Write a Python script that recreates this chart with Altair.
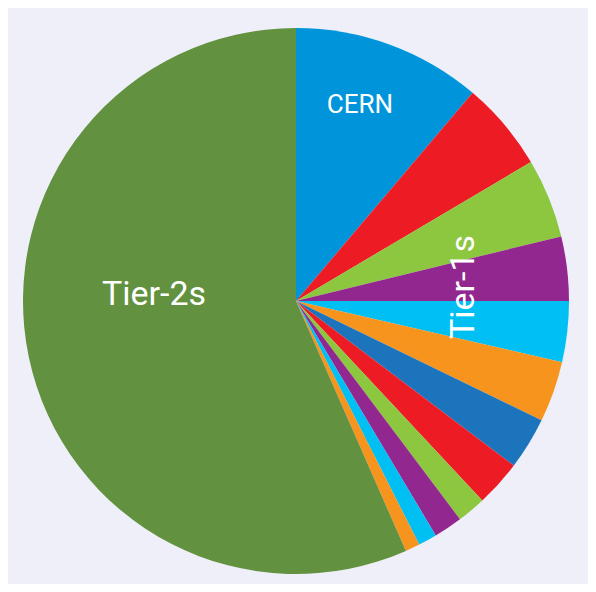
import altair as alt
import pandas as pd

sites = ["CERN", "T1-a", "T1-b", "T1-c", "T1-d", "T1-e", "T1-f", "T1-g",
         "T1-h", "T1-i", "T1-j", "T1-k", "Tier-2s"]
shares = [11.2, 5.3, 4.7, 3.8, 3.6, 3.6, 3.1, 2.75, 1.7, 1.7, 1.1, 0.86, 56.6]
colors = ["#0095da", "#ed1c24", "#8dc63f", "#92278f", "#00bff3", "#f7941d",
          "#1c75bc", "#ed1c24", "#8dc63f", "#92278f", "#00bff3", "#f7941d",
          "#62913f"]

label_text = ["CERN", "Tier-1s", "Tier-2s"]
label_x = [352, 456, 146]
label_y = [97, 279, 287]
label_size = [26, 34, 34]
label_angle = [0, 270, 0]

df = pd.DataFrame({"site": sites, "share": shares, "idx": list(range(len(sites)))})
labels = pd.DataFrame({"text": label_text, "px": label_x, "py": label_y,
                       "size": label_size, "angle": label_angle})

pie = alt.Chart(df).mark_arc(radius=273).encode(
    theta=alt.Theta("share:Q", stack=True),
    color=alt.Color("site:N", scale=alt.Scale(domain=sites, range=colors), legend=None),
    order=alt.Order("idx:Q"),
    x=alt.value(288),
    y=alt.value(293),
)

texts = []
for i in range(len(label_text)):
    t = alt.Chart(labels.iloc[[i]]).mark_text(
        color="white", font="Roboto", fontSize=label_size[i], angle=label_angle[i],
        align="center", baseline="middle",
    ).encode(
        text="text:N",
        x=alt.value(label_x[i]),
        y=alt.value(label_y[i]),
    )
    texts.append(t)

chart = alt.layer(pie, *texts).properties(
    width=580, height=576,
    autosize=alt.AutoSizeParams(type="fit", contains="padding"),
    padding=0,
    background="#eeeff8",
).configure_view(stroke=None)

chart.save("out.html", embed_options={"renderer": "svg", "actions": False})
